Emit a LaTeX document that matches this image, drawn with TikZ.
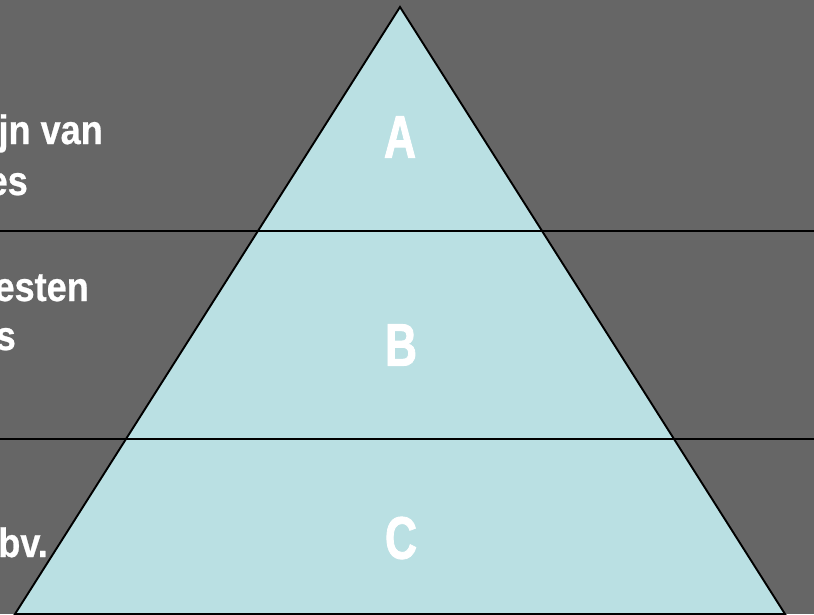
\documentclass[tikz,border=0pt]{standalone}
\usepackage{fontspec}
\setmainfont{Liberation Sans}
\newfontfamily\narrowfont[FakeStretch=0.88,FakeBold=0.6]{Liberation Sans}
\newfontfamily\layerfont[FakeStretch=0.74,FakeBold=1.4]{Liberation Sans}
\usepackage{tikz}
\usetikzlibrary{positioning,calc}
\definecolor{slidebg}{HTML}{666666}
\definecolor{pyrfill}{HTML}{BAE0E3}
\definecolor{rulecol}{HTML}{000000}
\tikzset{
  pyrshape/.style={fill=pyrfill,draw=rulecol,line width=1.9pt,line join=miter},
  layerrule/.style={draw=rulecol,line width=2pt},
  layerletter/.style={text=white,font=\layerfont\bfseries\fontsize{60}{60}\selectfont,inner sep=0pt},
  sidetext/.style={text=white,font=\narrowfont\bfseries\fontsize{41}{41}\selectfont,inner sep=0pt,anchor=base east},
}
\begin{document}
\begin{tikzpicture}[x=1pt,y=-1pt]
  \useasboundingbox (0,0) rectangle (814,614);
  \fill[slidebg] (0,0) rectangle (814,614);

  % left text, cut off by the slide edge
  \node[sidetext] (txtAa) at (103,144) {jn van};
  \node[sidetext] (txtAb) at (28,195) {es};
  \node[sidetext] (txtBa) at (89,301) {esten};
  \node[sidetext] (txtBb) at (16,350) {s};

  \coordinate (apex) at (400,7);
  \coordinate (baseL) at (15,614);
  \coordinate (baseR) at (785,614);
  \draw[pyrshape] (apex) -- (baseR) -- (baseL) -- cycle;

  \node[sidetext] (txtCa) at (48,557) {bv.};

  \coordinate (ruleAl) at (0,230.5);
  \coordinate (ruleAr) at (814,230.5);
  \coordinate (ruleBl) at (0,438.5);
  \coordinate (ruleBr) at (814,438.5);
  \draw[layerrule] (ruleAl) -- (ruleAr);
  \draw[layerrule] (ruleBl) -- (ruleBr);

  \node[layerletter] (lvlA) at (400,137) {A};
  \node[layerletter] (lvlB) at (401,345) {B};
  \node[layerletter] (lvlC) at (401,538) {C};
\end{tikzpicture}
\end{document}
